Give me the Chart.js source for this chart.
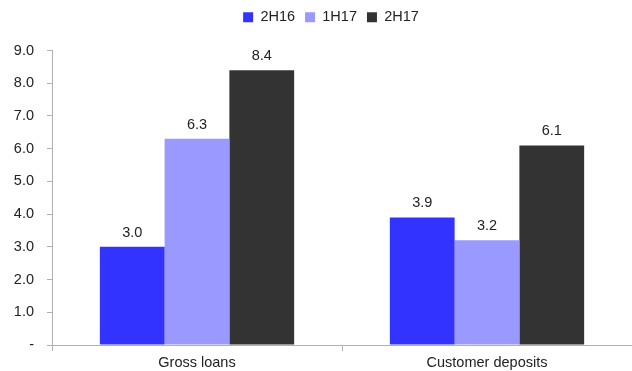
<!DOCTYPE html>
<html>
<head>
<meta charset="utf-8">
<script src="https://cdn.jsdelivr.net/npm/chart.js@4"></script>
<style>
html,body{margin:0;padding:0;background:#fff;}
#wrap{width:632px;height:371px;}
</style>
</head>
<body>
<div id="wrap"><canvas id="c" width="632" height="371"></canvas></div>
<script>
const categories = ["Gross loans", "Customer deposits"];
const series2H16 = [3.0, 3.9];
const series1H17 = [6.3, 3.2];
const series2H17 = [8.4, 6.1];
const seriesNames = ["2H16", "1H17", "2H17"];
const yTicks = [0, 1, 2, 3, 4, 5, 6, 7, 8, 9];

const FONT = "'Liberation Sans', Arial, sans-serif";
const FS = 14.5;

const valueLabels = {
  id: 'valueLabels',
  afterDatasetsDraw(chart) {
    const ctx = chart.ctx;
    ctx.save();
    ctx.font = FS + 'px ' + FONT;
    ctx.fillStyle = '#222';
    ctx.textAlign = 'center';
    ctx.textBaseline = 'bottom';
    chart.data.datasets.forEach((ds, i) => {
      const meta = chart.getDatasetMeta(i);
      meta.data.forEach((el, j) => {
        ctx.fillText(ds.data[j].toFixed(1), el.x, el.y - 7);
      });
    });
    ctx.restore();
  }
};

const legendFit = {
  id: 'legendFit',
  beforeLayout(chart) {
    const lg = chart.legend;
    if (lg && !lg._patched) {
      const f = lg.fit;
      lg.fit = function () { f.call(this); this.height += 16; };
      lg._patched = true;
    }
  },
  afterLayout(chart) {
    const lg = chart.legend;
    if (lg) { lg.left += 15; lg.right += 15; }
  }
};

new Chart(document.getElementById('c'), {
  type: 'bar',
  data: {
    labels: categories,
    datasets: [
      {label: seriesNames[0], data: series2H16, backgroundColor: '#3333FF'},
      {label: seriesNames[1], data: series1H17, backgroundColor: '#9999FF'},
      {label: seriesNames[2], data: series2H17, backgroundColor: '#333333'}
    ]
  },
  options: {
    responsive: false,
    animation: false,
    devicePixelRatio: 1,
    layout: {padding: {top: 0, right: 0, left: 0, bottom: 0}},
    datasets: {bar: {categoryPercentage: 0.67, barPercentage: 1.0}},
    plugins: {
      legend: {
        position: 'top',
        labels: {
          font: {size: FS, family: FONT},
          color: '#222',
          boxWidth: 10,
          boxHeight: 10,
          padding: 10
        }
      },
      tooltip: {enabled: false}
    },
    scales: {
      x: {
        afterFit(s) { s.height = 26; },
        grid: {
          offset: true,
          drawOnChartArea: false,
          drawTicks: true,
          tickLength: 6,
          color: '#b0b0b0'
        },
        border: {color: '#b0b0b0', width: 1},
        ticks: {font: {size: FS, family: FONT}, color: '#222', padding: 3}
      },
      y: {
        min: 0,
        max: 9,
        afterFit(s) { s.width = 52; },
        afterBuildTicks(s) { s.ticks = yTicks.map(v => ({value: v})); },
        grid: {drawOnChartArea: false, drawTicks: true, tickLength: 5, color: '#b0b0b0'},
        border: {color: '#b0b0b0', width: 1},
        ticks: {
          font: {size: FS, family: FONT},
          color: '#222',
          padding: 13,
          callback: (v) => v === 0 ? '-' : Number(v).toFixed(1)
        }
      }
    }
  },
  plugins: [valueLabels, legendFit]
});
</script>
</body>
</html>
